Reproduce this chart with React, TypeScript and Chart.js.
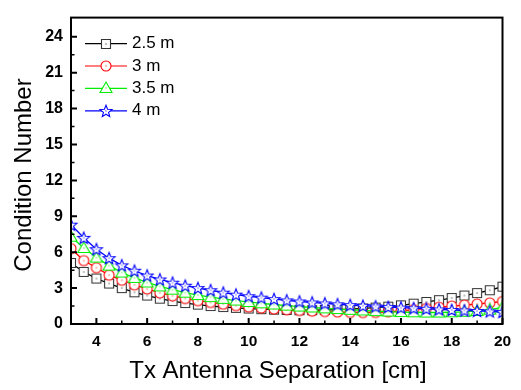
import React, { useEffect, useRef } from "react";
import { Chart, registerables } from "chart.js";

Chart.register(...registerables);

const xValues = [3, 3.5, 4, 4.5, 5, 5.5, 6, 6.5, 7, 7.5, 8, 8.5, 9, 9.5, 10, 10.5, 11, 11.5, 12, 12.5, 13, 13.5, 14, 14.5, 15, 15.5, 16, 16.5, 17, 17.5, 18, 18.5, 19, 19.5, 20];

const series25 = [5.1, 4.35, 3.8, 3.38, 3.0, 2.65, 2.38, 2.12, 1.92, 1.75, 1.62, 1.5, 1.42, 1.35, 1.29, 1.24, 1.2, 1.17, 1.15, 1.15, 1.17, 1.2, 1.24, 1.3, 1.37, 1.45, 1.56, 1.7, 1.84, 1.99, 2.17, 2.38, 2.58, 2.82, 3.12];
const series3 = [6.3, 5.3, 4.7, 4.08, 3.66, 3.27, 2.93, 2.6, 2.35, 2.13, 1.95, 1.8, 1.66, 1.54, 1.43, 1.34, 1.26, 1.19, 1.13, 1.08, 1.04, 1.0, 0.97, 0.96, 0.97, 1.02, 1.1, 1.2, 1.3, 1.4, 1.5, 1.58, 1.67, 1.76, 1.88];
const series35 = [7.3, 6.35, 5.55, 4.88, 4.3, 3.85, 3.47, 3.14, 2.87, 2.62, 2.42, 2.25, 2.1, 1.96, 1.84, 1.73, 1.63, 1.54, 1.46, 1.38, 1.31, 1.25, 1.19, 1.13, 1.08, 1.04, 1.0, 0.98, 0.96, 0.96, 0.98, 1.02, 1.09, 1.2, 1.38];
const series4 = [8.3, 7.2, 6.25, 5.5, 4.9, 4.45, 4.05, 3.72, 3.45, 3.2, 3.0, 2.82, 2.62, 2.45, 2.32, 2.2, 2.08, 1.97, 1.88, 1.8, 1.72, 1.65, 1.58, 1.52, 1.47, 1.42, 1.37, 1.32, 1.27, 1.22, 1.17, 1.13, 1.09, 1.05, 1.0];

const seriesLabels = ["2.5 m", "3 m", "3.5 m", "4 m"];
const seriesColors = ["#000000", "#ff0000", "#00ee00", "#0000ff"];
const seriesShapes = ["square", "circle", "triangle", "star"];

const xTicks = [4, 6, 8, 10, 12, 14, 16, 18, 20];
const xMinorTicks = [3, 5, 7, 9, 11, 13, 15, 17, 19];
const yTicks = [0, 3, 6, 9, 12, 15, 18, 21, 24];
const yMinorTicks = [1.5, 4.5, 7.5, 10.5, 13.5, 16.5, 19.5, 22.5];

const xTitle = "Tx Antenna Separation [cm]";
const yTitle = "Condition Number";

function makeMarker(shape: string, color: string): HTMLCanvasElement {
  const c = document.createElement("canvas");
  c.width = 16;
  c.height = 16;
  const g = c.getContext("2d")!;
  const cx = 8, cy = 8;
  g.lineWidth = 1.1;
  g.strokeStyle = shape === "square" ? "#333333" : color;
  g.fillStyle = "#ffffff";
  g.beginPath();
  if (shape === "square") {
    g.rect(cx - 4.5, cy - 4.5, 9, 9);
  } else if (shape === "circle") {
    g.arc(cx, cy, 5, 0, Math.PI * 2);
  } else if (shape === "triangle") {
    g.moveTo(cx, cy - 6);
    g.lineTo(cx + 6, cy + 4.5);
    g.lineTo(cx - 6, cy + 4.5);
    g.closePath();
  } else {
    for (let k = 0; k < 10; k++) {
      const r = k % 2 === 0 ? 6.3 : 2.7;
      const ang = -Math.PI / 2 + (k * Math.PI) / 5;
      const px = cx + r * Math.cos(ang);
      const py = cy + 0.5 + r * Math.sin(ang);
      if (k === 0) g.moveTo(px, py);
      else g.lineTo(px, py);
    }
    g.closePath();
  }
  g.fill();
  g.stroke();
  g.fillStyle = color;
  g.fillRect(cx - 0.5, cy - 0.5, 1, 1);
  return c;
}

export default function App() {
  const ref = useRef<HTMLCanvasElement | null>(null);

  useEffect(() => {
    if (!ref.current) return;
    const markers = seriesShapes.map((s, i) => makeMarker(s, seriesColors[i]));
    const allSeries = [series25, series3, series35, series4];

    const decorPlugin = {
      id: "decor",
      afterDatasetsDraw(chart: any) {
        const { ctx, chartArea: a, scales } = chart;
        const xs = scales.x;
        const ys = scales.y;
        ctx.save();
        ctx.strokeStyle = "#000";
        ctx.lineWidth = 2;
        ctx.strokeRect(a.left, a.top, a.right - a.left, a.bottom - a.top);
        ctx.lineWidth = 2;
        ctx.beginPath();
        xTicks.forEach((v) => {
          const p = xs.getPixelForValue(v);
          ctx.moveTo(p, a.bottom);
          ctx.lineTo(p, a.bottom - 6);
        });
        yTicks.forEach((v) => {
          const p = ys.getPixelForValue(v);
          ctx.moveTo(a.left, p);
          ctx.lineTo(a.left + 6, p);
        });
        ctx.stroke();
        ctx.lineWidth = 1.5;
        ctx.beginPath();
        xMinorTicks.forEach((v) => {
          const p = xs.getPixelForValue(v);
          ctx.moveTo(p, a.bottom);
          ctx.lineTo(p, a.bottom - 3.5);
        });
        yMinorTicks.forEach((v) => {
          const p = ys.getPixelForValue(v);
          ctx.moveTo(a.left, p);
          ctx.lineTo(a.left + 3.5, p);
        });
        ctx.stroke();

        // legend
        ctx.font = "17px 'Liberation Sans', Arial, sans-serif";
        ctx.textBaseline = "middle";
        ctx.textAlign = "left";
        seriesLabels.forEach((lab, i) => {
          const y = a.top + 26 + i * 22.4;
          ctx.strokeStyle = seriesColors[i];
          ctx.lineWidth = 1.2;
          ctx.beginPath();
          ctx.moveTo(a.left + 14, y);
          ctx.lineTo(a.left + 56, y);
          ctx.stroke();
          ctx.drawImage(markers[i], Math.round(a.left + 35 - 8), Math.round(y - 8));
          ctx.fillStyle = "#000";
          ctx.fillText(lab, a.left + 61, y);
        });

        // axis titles
        ctx.fillStyle = "#000";
        ctx.font = "24px 'Liberation Sans', Arial, sans-serif";
        ctx.textAlign = "center";
        ctx.textBaseline = "alphabetic";
        ctx.fillText(xTitle, 278, 378);
        ctx.save();
        ctx.translate(31, 175);
        ctx.rotate(-Math.PI / 2);
        ctx.fillText(yTitle, 0, 0);
        ctx.restore();
        ctx.restore();
      },
    };

    const chart = new Chart(ref.current, {
      type: "line",
      data: {
        datasets: allSeries.map((s, i) => ({
          label: seriesLabels[i],
          data: xValues.map((x, j) => ({ x, y: s[j] })),
          borderColor: seriesColors[i],
          backgroundColor: "#ffffff",
          borderWidth: 1.3,
          pointStyle: markers[i] as any,
          pointRadius: 5,
          pointHoverRadius: 5,
          tension: 0,
          order: 3 - i,
        })),
      },
      options: {
        responsive: false,
        animation: false,
        events: [],
        layout: { padding: { top: 7, right: 18.5, left: 0, bottom: 0 } },
        plugins: { legend: { display: false }, tooltip: { enabled: false } },
        scales: {
          x: {
            type: "linear",
            min: 3,
            max: 20,
            grid: { display: false, drawTicks: false },
            border: { display: false },
            afterBuildTicks: (scale: any) => {
              scale.ticks = xTicks.map((v) => ({ value: v }));
            },
            afterFit: (scale: any) => {
              scale.height = 66;
            },
            ticks: {
              padding: 8,
              color: "#000",
              font: { family: "'Liberation Sans', Arial, sans-serif", size: 15.5, weight: "bold" },
              maxRotation: 0,
            },
          },
          y: {
            type: "linear",
            min: 0,
            max: 25.6,
            grid: { display: false, drawTicks: false },
            border: { display: false },
            afterBuildTicks: (scale: any) => {
              scale.ticks = yTicks.map((v) => ({ value: v }));
            },
            afterFit: (scale: any) => {
              scale.width = 71;
            },
            ticks: {
              padding: 8,
              color: "#000",
              font: { family: "'Liberation Sans', Arial, sans-serif", size: 16, weight: "bold" },
            },
          },
        },
      },
      plugins: [decorPlugin],
    } as any);

    return () => chart.destroy();
  }, []);

  return (
    <div style={{ position: "absolute", left: 0, top: 0, width: 521, height: 390, background: "#fff" }}>
      <canvas ref={ref} width={521} height={390} style={{ display: "block" }} />
    </div>
  );
}
